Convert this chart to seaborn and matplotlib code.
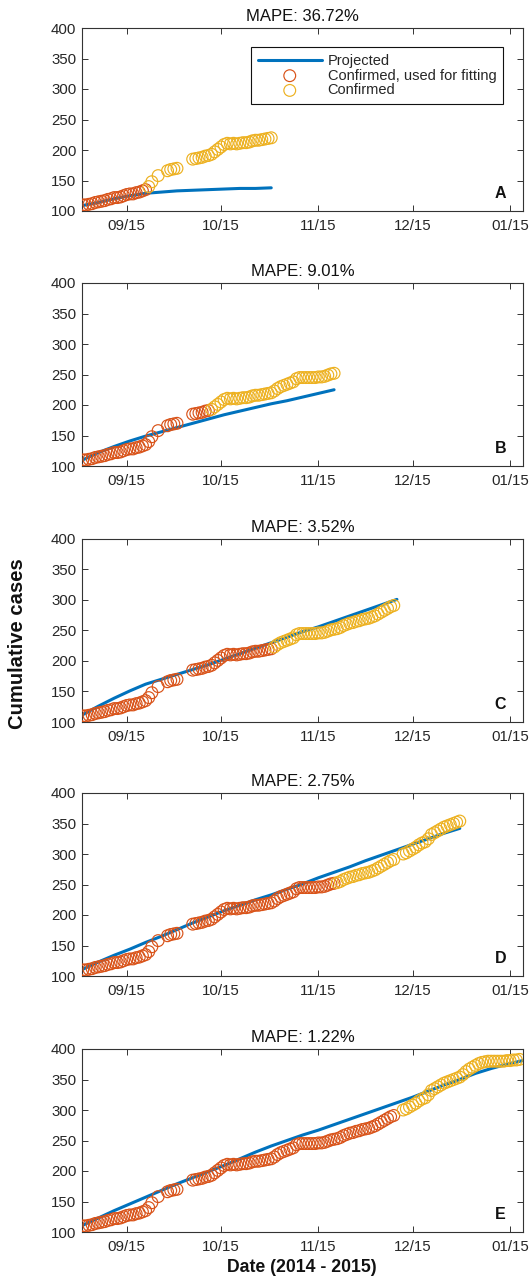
import numpy as np
import pandas as pd
import matplotlib
matplotlib.use("Agg")
import matplotlib.pyplot as plt
import seaborn as sns

# --- data ---
START = "2014-09-01"

# cumulative confirmed cases, one value per day from 09/01 (nan = no report)
confirmed = [
    110, 110, 111, 112, 114, 115, 116, 117, 119, 120,
    122, 122, 123, 125, 127, 128, 128, 130, 131, 133,
    135, 140, 148, np.nan, 158, np.nan, np.nan, 166, 168, 169,
    170, np.nan, np.nan, np.nan, np.nan, 185, 186, 187, 188, 190,
    191, 193, 197, 201, 205, 209, 211, 210, 211, 210,
    211, 212, 212, 213, 215, 216, 216, 217, 218, 219,
    220, 223, 227, 230, 232, 234, 236, 238, 243, 245,
    245, 245, 245, 245, 245, 246, 246, 247, 249, 251,
    252, 253, 255, 258, 260, 262, 263, 265, 266, 268,
    269, 270, 272, 274, 277, 280, 283, 286, 289, 291,
    np.nan, np.nan, 300, 302, 305, 308, 311, 315, 318, 320,
    325, 332, 335, 338, 341, 344, 346, 348, 350, 352,
    354, 358, 363, 367, 370, 373, 376, 378, 379, 380,
    380, 380, 380, 380, 380, 381, 381, 382, 382, 383,
]

panels = ["A", "B", "C", "D", "E"]
mape = ["36.72%", "9.01%", "3.52%", "2.75%", "1.22%"]
fit_end = [20, 40, 60, 80, 100]      # last day used for fitting
show_end = [60, 80, 100, 120, 140]   # last day shown

# projected curves, sampled every 5 days from 09/01
proj_day = [0, 5, 10, 15, 20, 25, 30, 35, 40, 45, 50, 55, 60, 65, 70,
            75, 80, 85, 90, 95, 100, 105, 110, 115, 120, 125, 130, 135, 140]
proj_a = [109, 114, 120, 125, 129, 131, 133, 134, 135, 136, 137, 137, 138]
proj_b = [110, 122, 132, 141, 149, 156, 163, 170, 177, 184, 190, 196, 202,
          207, 213, 219, 225]
proj_c = [112, 126, 139, 151, 162, 170, 178, 186, 194, 203, 212, 221, 230,
          239, 248, 256, 265, 274, 283, 292, 301]
proj_d = [111, 123, 134, 144, 155, 165, 176, 187, 197, 207, 216, 225, 233,
          242, 251, 261, 270, 279, 289, 298, 307, 316, 325, 334, 342]
proj_e = [111, 123, 135, 146, 157, 168, 179, 189, 199, 209, 220, 231, 241,
          250, 259, 267, 276, 285, 294, 303, 312, 321, 331, 341, 350, 360,
          368, 375, 381]
projections = [proj_a, proj_b, proj_c, proj_d, proj_e]

xticks = ["2014-09-15", "2014-10-15", "2014-11-15", "2014-12-15", "2015-01-15"]
yticks = [100, 150, 200, 250, 300, 350, 400]

BLUE = "#0072BD"
RED = "#D95319"
YELLOW = "#EDB120"
AXC = "#333333"

sns.set_style("ticks")
plt.rcParams["font.family"] = ["Liberation Sans", "DejaVu Sans"]

df = pd.DataFrame({"date": pd.date_range(START, periods=len(confirmed), freq="D"),
                   "cases": confirmed})
df["day"] = np.arange(len(df))

W, H = 532, 1279
fig = plt.figure(figsize=(W / 100, H / 100), dpi=100)
tops = [28, 283, 539, 793, 1049]
ax_h = 183

for i, top in enumerate(tops):
    ax = fig.add_axes([82 / W, 1 - (top + ax_h) / H, 441 / W, ax_h / H])
    vals = projections[i]
    proj = pd.DataFrame({
        "date": pd.Timestamp(START) + pd.to_timedelta(proj_day[:len(vals)], unit="D"),
        "cases": vals})
    fit = df[df["day"] <= fit_end[i]].dropna()
    rest = df[(df["day"] > fit_end[i]) & (df["day"] <= show_end[i])].dropna()

    sns.lineplot(data=proj, x="date", y="cases", color=BLUE, lw=2.2,
                 estimator=None, ax=ax, label="Projected", legend=False, zorder=2)
    sns.scatterplot(data=fit, x="date", y="cases", ax=ax, s=72, marker="o",
                    facecolor="none", edgecolor=RED, linewidth=0.85,
                    label="Confirmed, used for fitting", legend=False, zorder=3)
    sns.scatterplot(data=rest, x="date", y="cases", ax=ax, s=72, marker="o",
                    facecolor="none", edgecolor=YELLOW, linewidth=0.85,
                    label="Confirmed", legend=False, zorder=3)

    ax.set_xlim(pd.Timestamp("2014-08-31 18:30"), pd.Timestamp("2015-01-19 03:00"))
    ax.set_ylim(100, 400)
    ax.set_yticks(yticks)
    ax.set_xticks(pd.to_datetime(xticks))
    ax.set_xticklabels([pd.Timestamp(t).strftime("%m/%d") for t in xticks])
    ax.set_xlabel("")
    ax.set_ylabel("")
    ax.tick_params(direction="in", top=True, right=True, length=4, width=0.7,
                   color=AXC, labelcolor="#262626", labelsize=10.8)
    ax.tick_params(axis="x", pad=6)
    ax.tick_params(axis="y", pad=4)
    for sp in ax.spines.values():
        sp.set_visible(True)
        sp.set_color(AXC)
        sp.set_linewidth(0.8)
    ax.set_title(f"MAPE: {mape[i]}", fontsize=12, color="#111111", pad=5)
    ax.text(0.949, 0.093, panels[i], transform=ax.transAxes, fontsize=11.5,
            fontweight="bold", ha="center", va="center", color="#111111")

    if i == 0:
        leg = ax.legend(loc="upper right", bbox_to_anchor=(0.9546, 0.895),
                        borderaxespad=0, fontsize=10.5, handlelength=4.4,
                        handletextpad=0.4, labelspacing=0.05, borderpad=0.45,
                        fancybox=False, frameon=True, framealpha=1)
        leg.get_frame().set_edgecolor("#111111")
        leg.get_frame().set_linewidth(0.8)
    else:
        if ax.get_legend() is not None:
            ax.get_legend().remove()

fig.text(18 / W, 1 - 644 / H, "Cumulative cases", rotation=90, fontsize=14.6,
         fontweight="bold", ha="center", va="center", color="#111111")
fig.text(302 / W, 1 - 1268 / H, "Date (2014 - 2015)", fontsize=12.7,
         fontweight="bold", ha="center", va="center", color="#111111")

fig.savefig("out.png", dpi=100)
